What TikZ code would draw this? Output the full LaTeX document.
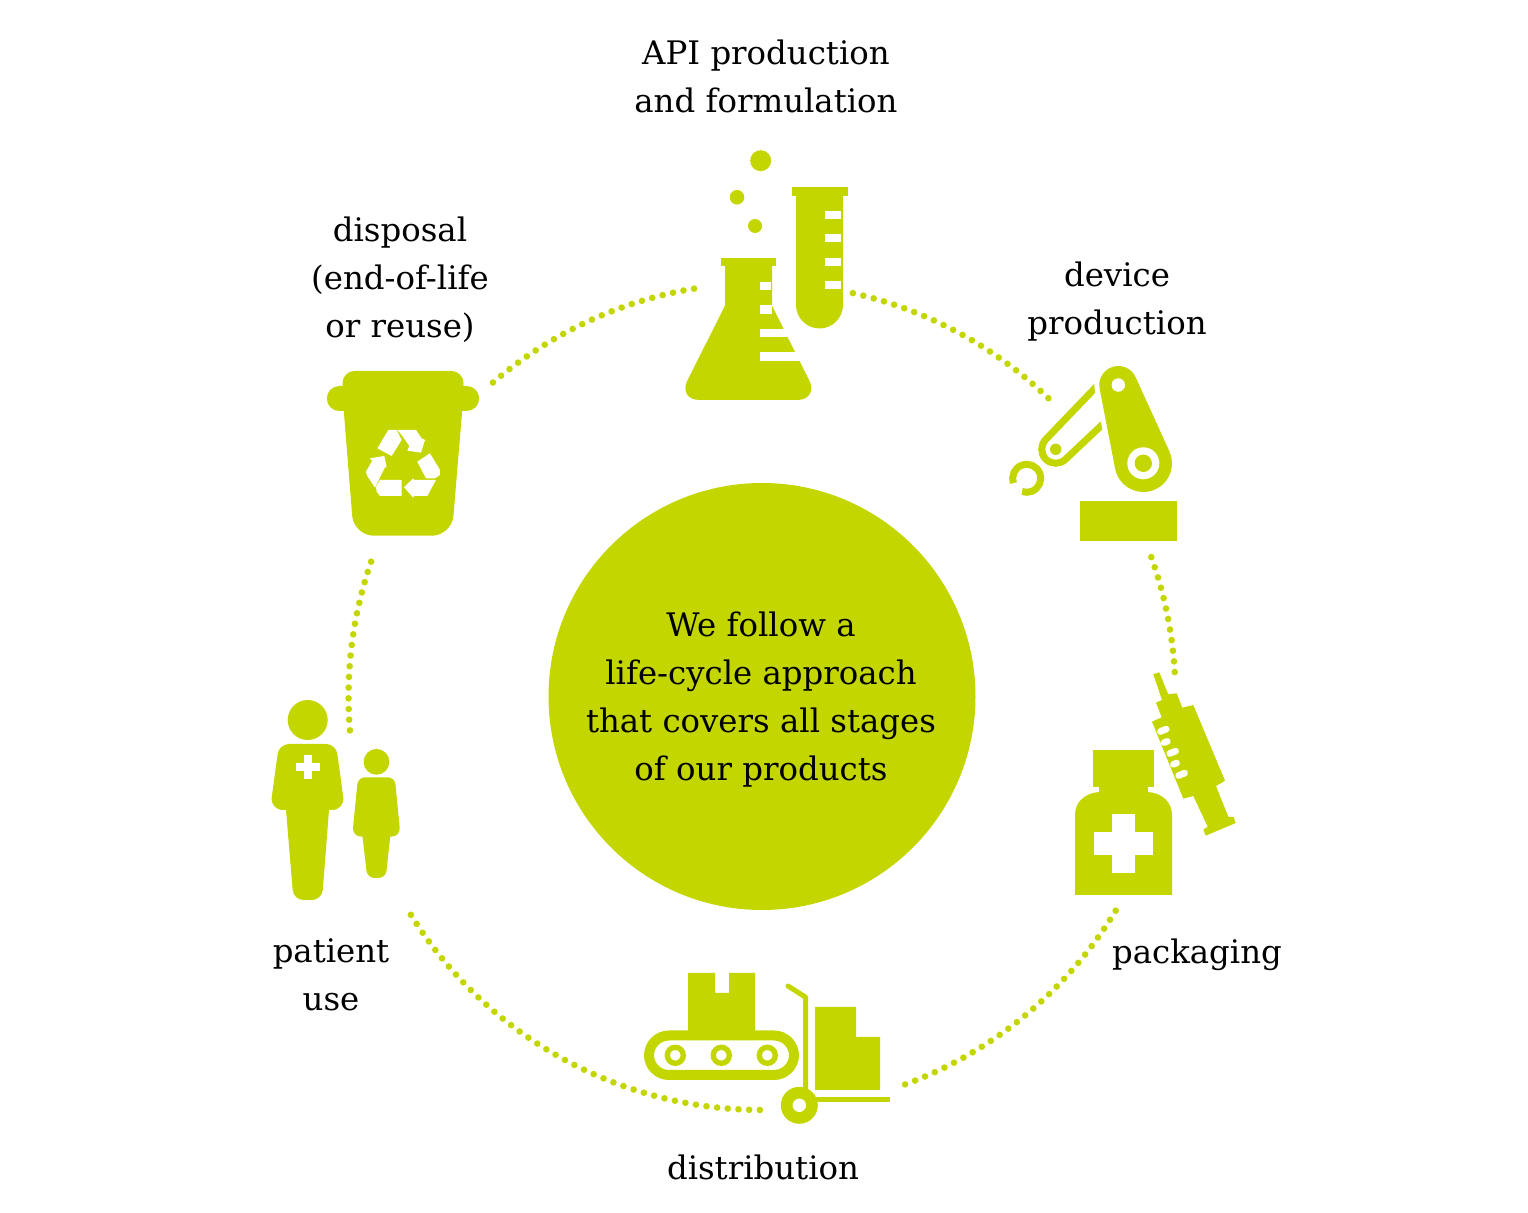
\documentclass[tikz,border=0pt]{standalone}
\usepackage{fontspec}
\setmainfont{DejaVu Serif}
\usetikzlibrary{calc}
\definecolor{leaf}{HTML}{C4D600}
\newcommand{\crossmark}[4]{
  \fill[white] (#1 - #3, #2 - #4) rectangle (#1 + #3, #2 + #4);
  \fill[white] (#1 - #4, #2 - #3) rectangle (#1 + #4, #2 + #3);}
\newcommand{\person}[3]{
  \fill[leaf] (0, -24) circle[radius = 20];
  \fill[leaf, rounded corners = #1] (-28.7, 0) -- (28.3, 0) [rounded corners = #2] -- (37.3, #3)
    [sharp corners] -- (21.3, #3) [rounded corners = #1] -- (14.3, 156)
    -- (-14.2, 156) [sharp corners] -- (-21.7, #3) [rounded corners = #2]
    -- (-37.7, #3) [rounded corners = #1] -- cycle;}
\newcommand{\armpath}{
  ($(armtop) + (-24.5:19)$) arc[start angle = -24.5, end angle = -190.9, radius = 19]
  -- ($(armbot) + (169.1:28.7)$) arc[start angle = 169.1, end angle = -24.5, radius = 28.7] -- cycle}
\tikzset{
  label text/.style = {font = \fontsize{16.2}{24}\selectfont, align = center, text = black},
  dot line/.style = {leaf, line width = 3.3pt, line cap = round, dash pattern = on 0pt off 5.35pt},
  slot/.style = {white, line width = 3.3pt, line cap = round}}

\begin{document}
\begin{tikzpicture}[x = 0.5pt, y = -0.5pt]
  \useasboundingbox (0, 0) rectangle (1528, 1213);

  \node[circle, fill = leaf, inner sep = 0, minimum size = 213.5pt] (hub) at (762, 696.5) {};
  \node[label text] (hubtext) at (761, 700) {We follow a\\life-cycle approach\\that covers all stages\\of our products};

  \node[label text] (api) at (766, 76) {API production\\and formulation};
  \node[label text] (device) at (1117, 302) {device\\production};
  \node[label text] (packaging) at (1197, 955) {packaging};
  \node[label text] (distribution) at (763, 1167) {distribution};
  \node[label text] (patient) at (331, 975) {patient\\use};
  \node[label text] (disposal) at (400, 280) {disposal\\(end-of-life\\or reuse)};

  \foreach \a/\b in {-77.3/-46, -19.7/-3.3, 31.2/70, 90.3/148.8, 175.3/199.8, 229.4/261.9}
    \draw[dot line] (hub.center) ++(\a:413.5) arc[start angle = \a, end angle = \b, radius = 413.5];

  % flask and test tube
  \fill[leaf] (760.7, 160.7) circle[radius = 10.5] (737, 197.3) circle[radius = 7.3]
    (755, 226) circle[radius = 7];
  \fill[leaf] (792, 187) rectangle (848, 196);
  \fill[leaf] (796, 190) -- (796, 305) arc[start angle = 180, end angle = 0, radius = 23.5]
    -- (843, 190) -- cycle;
  \foreach \y in {211, 234, 258, 281}
    \fill[white] (825, \y) rectangle (841, \y + 8.5);
  \fill[leaf] (721, 258) rectangle (776, 266);
  \fill[leaf] (725, 262) -- (725, 305.7) [rounded corners = 11pt] -- (677.6, 400) -- (819, 400)
    [sharp corners] -- (772, 305.7) -- (772, 262) -- cycle;
  \fill[white] (760, 282) rectangle (771, 290);
  \fill[white] (760, 305) rectangle (772, 314);
  \fill[white] (760, 329) rectangle (795, 337);
  \fill[white] (760, 352) rectangle (805, 361);

  % robot arm
  \coordinate (armtop) at (1118.3, 385);
  \coordinate (armbot) at (1143.3, 463.3);
  \fill[leaf] (1080, 501) rectangle (1177, 541);
  \draw[leaf, line width = 3.5pt] (1098, 385) -- (1045.8, 439.4)
    arc[start angle = -135, end angle = -315, radius = 14] -- (1103, 424);
  \fill[leaf] (1055.7, 449.3) circle[radius = 5.7];
  \draw[leaf, line width = 3.5pt] (1026.7, 478.3) ++(160:14)
    arc[start angle = 160, end angle = 469, radius = 14];
  \draw[white, line width = 5pt] \armpath;
  \fill[leaf] \armpath;
  \fill[white] (armtop) circle[radius = 6.7] (armbot) circle[radius = 16];
  \fill[leaf] (armbot) circle[radius = 8.7];

  % bottle and syringe
  \fill[leaf] (1093, 750) rectangle (1154, 786.7);
  \fill[leaf] (1099, 780) -- (1099, 792) .. controls (1085, 793) and (1075, 802) .. (1075, 815)
    -- (1075, 895) -- (1172, 895) -- (1172, 815) .. controls (1172, 802) and (1162, 793) .. (1148, 792)
    -- (1148, 780) -- cycle;
  \crossmark{1123.5}{843.5}{29.5}{11.5}
  \fill[leaf] (1153.3, 674.3) -- (1159.3, 672.3) -- (1168.3, 694.3) -- (1176.7, 693.3)
    -- (1182.3, 707.7) -- (1193.3, 705) -- (1225, 780.7) -- (1216, 786) -- (1228.3, 816.7)
    -- (1233.7, 817) -- (1235.7, 823) -- (1205.7, 835.7) -- (1203.3, 829.7) -- (1207.7, 826.7)
    -- (1193.3, 796) -- (1183.3, 798.7) -- (1152, 721.7) -- (1161.7, 717.3) -- (1156, 702.7)
    -- (1162, 700) -- cycle;
  \foreach \x/\y/\h in {1163.3/730.3/3.2, 1165.7/742/1.8, 1172.7/752.3/3.2, 1175/763.7/1.8, 1181.7/774.3/3.2}
    \draw[slot] (\x, \y) +(-22:\h) -- +(158:\h);

  % conveyor and trolley
  \fill[leaf] (688, 973) -- (715, 973) -- (715, 993) -- (729, 993) -- (729, 973) -- (755, 973)
    -- (755, 1032) -- (688, 1032) -- cycle;
  \draw[leaf, line width = 5pt, rounded corners = 10pt] (649, 1035.5) rectangle (794, 1075);
  \foreach \x in {675.3, 721.3, 767.3}
    \draw[leaf, line width = 2.7pt] (\x, 1055.3) circle[radius = 8];
  \draw[leaf, line width = 2.5pt, line cap = round, line join = round] (788, 986) -- (805.7, 997.3) -- (805.7, 1095);
  \fill[leaf] (800, 1097) rectangle (890, 1102);
  \fill[leaf] (815, 1007) -- (856, 1007) -- (856, 1037) -- (880, 1037) -- (880, 1090) -- (815, 1090) -- cycle;
  \fill[leaf] (799.3, 1105.3) circle[radius = 18.5];
  \fill[white] (799.3, 1105.3) circle[radius = 6.7];

  % patients
  \begin{scope}[shift = {(307.7, 744)}]
    \person{5pt}{6.5pt}{66}
  \end{scope}
  \crossmark{307.7}{767}{12}{3.85}
  \begin{scope}[shift = {(376.5, 777.3)}, scale = 0.645]
    \person{3.5pt}{4.5pt}{92}
  \end{scope}

  % bin with recycling arrows
  \fill[leaf, rounded corners = 6pt] (342.5, 371) -- (463.5, 371) -- (463.5, 395)
    [rounded corners = 10pt] -- (451.8, 535.7) -- (353.8, 535.7) [rounded corners = 6pt] -- (342.5, 395) -- cycle;
  \fill[leaf] (339.3, 386) arc[start angle = -90, end angle = -270, radius = 12.5]
    -- (466.7, 411) arc[start angle = 90, end angle = -90, radius = 12.5] -- cycle;
  \begin{scope}[shift = {(320, 360)}, scale = 0.3333]
    \fill[white] (205, 210) -- (230, 210) -- (245, 240) -- (215, 288) -- (172, 265) -- cycle;
    \fill[white] (232, 210) -- (288, 210) -- (305, 235) -- (315, 240) -- (303, 278) -- (262, 272)
      -- (268, 258) -- (245, 225) -- cycle;
    \fill[white] (330, 280) -- (360, 330) -- (360, 345) -- (345, 355) -- (318, 355) -- (292, 305) -- cycle;
    \fill[white] (348, 360) -- (322, 408) -- (282, 408) -- (280, 413) -- (252, 382) -- (280, 355)
      -- (282, 360) -- cycle;
    \fill[white] (245, 360) -- (245, 408) -- (180, 408) -- (170, 395) -- (168, 380) -- (180, 360) -- cycle;
    \fill[white] (150, 295) -- (193, 288) -- (200, 322) -- (195, 322) -- (165, 383) -- (140, 345)
      -- (138, 335) -- (157, 302) -- cycle;
  \end{scope}
\end{tikzpicture}
\end{document}
